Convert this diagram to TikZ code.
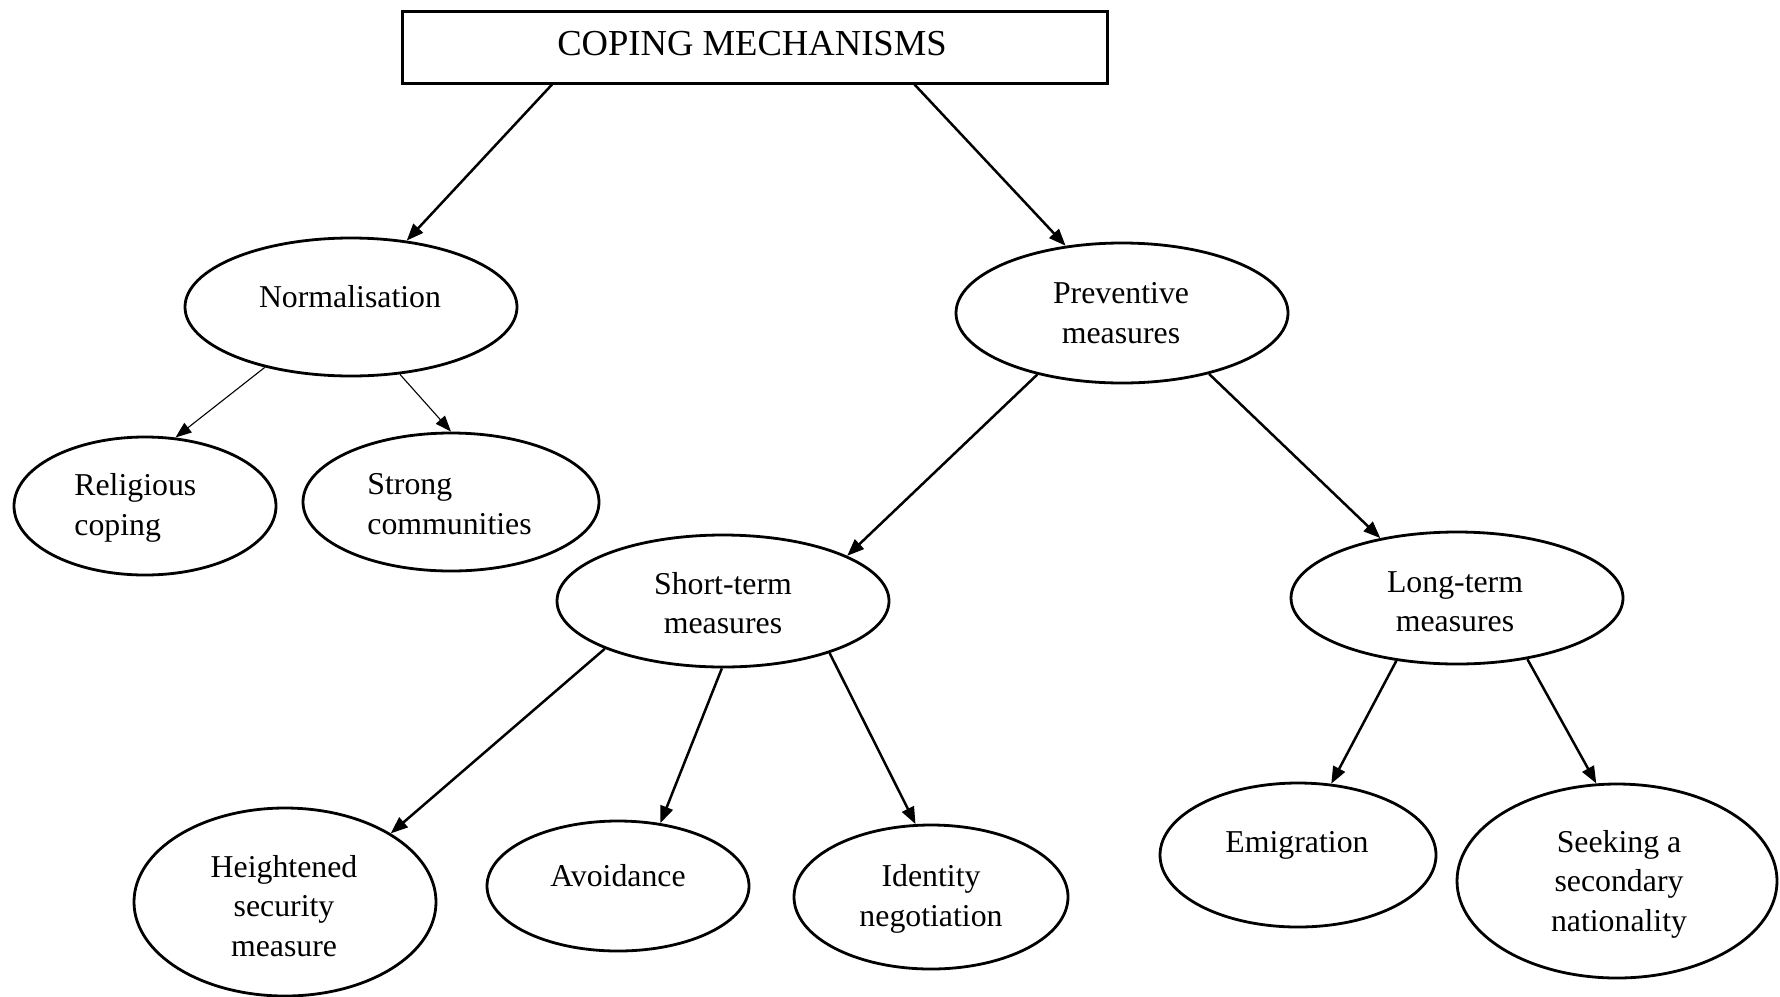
\documentclass[tikz,border=0pt]{standalone}
\usepackage{fontspec}
\setmainfont{Liberation Serif}
\usetikzlibrary{arrows.meta,shapes.geometric,calc}
\begin{document}
\begin{tikzpicture}[x=0.5pt,y=-0.5pt,
  oval/.style={ellipse, draw, line width=1.4pt, inner sep=0pt},
  lbl/.style={font=\fontsize{15.9}{19.7}\selectfont, align=center, inner sep=0pt},
  conn/.style={line width=1.25pt, -{Triangle[length=8.5pt,width=6.5pt]}},
  thinconn/.style={line width=0.55pt, -{Triangle[length=8pt,width=6pt]}}]
\useasboundingbox (0,0) rectangle (1780,996);
% title
\node[draw, line width=1.5pt, minimum width=352.5pt, minimum height=36pt, inner sep=0pt] (title) at (754.5,47) {};
\node[font=\fontsize{18.3}{22}\selectfont, inner sep=0pt] (ttitle) at (752,44) {COPING MECHANISMS};
% ellipses
\node[oval, minimum width=166pt, minimum height=69pt] (norm) at (351,307) {};
\node[oval, minimum width=166pt, minimum height=70pt] (prev) at (1122,313) {};
\node[oval, minimum width=131pt, minimum height=69pt] (rel) at (145,506) {};
\node[oval, minimum width=148pt, minimum height=69pt] (strong) at (451,502) {};
\node[oval, minimum width=166pt, minimum height=66pt] (short) at (723,601) {};
\node[oval, minimum width=166pt, minimum height=66pt] (long) at (1457,598) {};
\node[oval, minimum width=151pt, minimum height=94pt] (height) at (285,902) {};
\node[oval, minimum width=131pt, minimum height=65pt] (avoid) at (618,886) {};
\node[oval, minimum width=137pt, minimum height=72pt] (ident) at (931,897) {};
\node[oval, minimum width=138pt, minimum height=72pt] (emig) at (1298,855) {};
\node[oval, minimum width=160pt, minimum height=97pt] (seek) at (1617,881) {};
% texts
\node[lbl] (tnorm) at (350,297) {Normalisation};
\node[lbl] (tprev) at (1121,313) {Preventive\\measures};
\node[lbl, anchor=west, align=left] (trel) at (74,508) {Religious\\coping};
\node[lbl, anchor=west, align=left] (tstrong) at (367,504) {Strong\\communities};
\node[lbl] (tshort) at (723,603) {Short-term\\measures};
\node[lbl] (tlong) at (1455,602) {Long-term\\measures};
\node[lbl] (theight) at (284,906) {Heightened\\security\\measure};
\node[lbl] (tavoid) at (618,876) {Avoidance};
\node[lbl] (tident) at (931,899) {Identity\\negotiation};
\node[lbl] (temig) at (1297,845) {Emigration};
\node[lbl] (tseek) at (1619,884) {Seeking a\\secondary\\nationality};
% connectors
\draw[conn] ($(title.south west)!0.214!(title.south east)$) -- (norm.50.3);
\draw[conn] ($(title.south west)!0.726!(title.south east)$) -- (prev.130);
\draw[thinconn] (norm.215.5) -- (rel.66.9);
\draw[thinconn] (norm.306.9) -- (strong.90);
\draw[conn] (prev.216.9) -- (short.20.2);
\draw[conn] (prev.325.1) -- (long.142.4);
\draw[conn] (short.202.7) -- (height.33.2);
\draw[conn] (short.269.1) -- (avoid.56.3);
\draw[conn] (short.334.5) -- (ident.102.5);
\draw[conn] (long.226.8) -- (emig.65.7);
\draw[conn] (long.319.8) -- (seek.102.1);
\end{tikzpicture}
\end{document}
